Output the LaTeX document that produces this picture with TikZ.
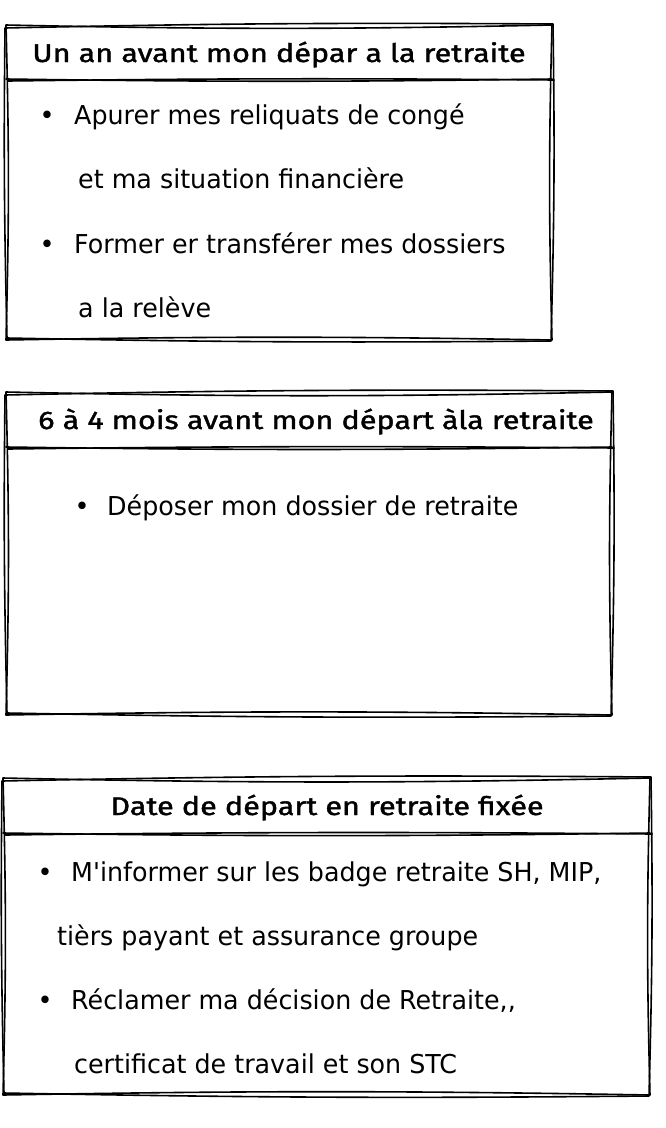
\documentclass[tikz,border=0pt]{standalone}
\usepackage{fontspec}
\setmainfont{DejaVu Sans}[FakeStretch=0.975, Ligatures=TeXOff]
\newfontfamily\handfont{Fira Sans}[FakeStretch=1.2, FakeBold=1.5]
\usetikzlibrary{positioning}

% rough hand drawn frame: x1, y1 (top), x2, y2 (bottom), y of title rule
\newcommand{\sketchbox}[5]{%
  \draw[rough] (#1,#2) to[bend right=1.2] (#3,#2) to[bend right=1.5] (#3,#4)
    to[bend right=1] (#1,#4) to[bend right=1.5] cycle;
  \draw[rough] (#1-1,#2+3) to[bend left=0.8] (#3+1,#2-1) to[bend left=1.2] (#3-1,#4+1)
    to[bend left=0.8] (#1+1,#4-2) to[bend left=1] (#1-1,#2+3);
  \draw[rough] (#1,#5) to[bend right=0.8] (#3,#5);
  \draw[rough] (#1+2,#5+2) to[bend left=0.6] (#3+2,#5+1);
}

\begin{document}
\begin{tikzpicture}[
      x=1pt, y=-1pt,
      rough/.style ={draw, line width=1.6pt, line cap=round, line join=round},
      title/.style ={inner sep=0pt, anchor=base, font=\handfont\fontsize{25.5}{28}\selectfont},
      txt/.style   ={inner sep=0pt, anchor=base west, font=\fontsize{26}{30}\selectfont},
      bul/.style   ={inner sep=0pt, anchor=base, font=\fontsize{26}{30}\selectfont}
    ]
    \useasboundingbox (0,0) rectangle (666,1128);

    % Un an avant
    \sketchbox{6}{25}{552}{340}{79}
    \node[title] (T1) at (279,62) {Un an avant mon dépar a la retraite};
    \node[bul] (b1) at (47,124) {•};
    \node[txt] (l1) at (74,124) {Apurer mes reliquats de congé};
    \node[txt] (l2) at (78,188) {et ma situation financière};
    \node[bul] (b2) at (47,253) {•};
    \node[txt] (l3) at (74,253) {Former er transférer mes dossiers};
    \node[txt] (l4) at (78,317) {a la relève};

    % 6 a 4 mois
    \sketchbox{6}{392}{612}{715}{447}
    \node[title] (T2) at (316,429) {6 à 4 mois avant mon départ àla retraite};
    \node[bul] (b3) at (82,515) {•};
    \node[txt] (l5) at (107,515) {Déposer mon dossier de retraite};

    % Date fixee
    \sketchbox{3}{778}{650}{1095}{833}
    \node[title] (T3) at (327,815) {Date de départ en retraite fixée};
    \node[bul] (b4) at (45,881) {•};
    \node[txt] (l6) at (71,881) {M'informer sur les badge retraite SH, MIP,};
    \node[txt] (l7) at (57,945) {tièrs payant et assurance groupe};
    \node[bul] (b5) at (45,1009) {•};
    \node[txt] (l8) at (71,1009) {Réclamer ma décision de Retraite,,};
    \node[txt] (l9) at (74,1073) {certificat de travail et son STC};

  \end{tikzpicture}
\end{document}
